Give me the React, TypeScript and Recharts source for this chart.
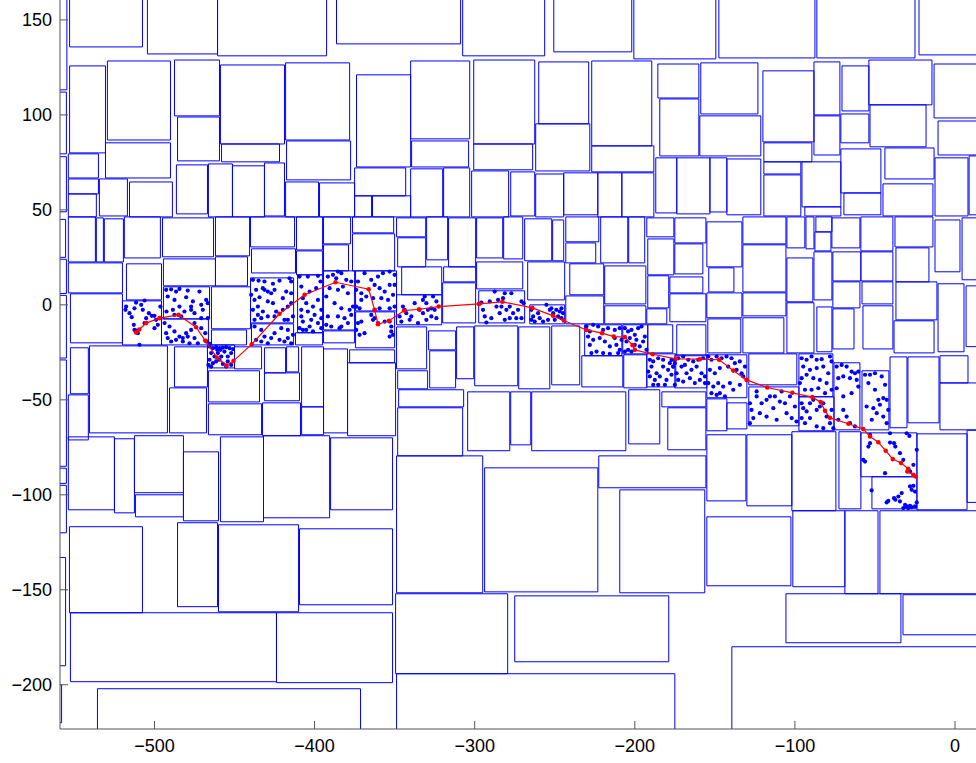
import React from 'react';
import { ScatterChart, Scatter, XAxis, YAxis, ReferenceArea } from 'recharts';

type Box = [number, number, number, number]; // x1, x2, yBottom, yTop

const xTicks = [-500, -400, -300, -200, -100, 0];
const yTicks = [-200, -150, -100, -50, 0, 50, 100, 150];

const boxesNorth: Box[] = [
  [-553, -507.5, 135.8, 170], [-504.4, -460.6, 132.1, 170], [-460.6, -392.5, 131.1, 170], [-386.3, -308.8, 137.4, 170],
  [-553, -530.6, 80, 125.8], [-529.4, -490, 86.8, 128.4], [-487.5, -459.4, 99.5, 128.9], [-485.6, -459.4, 75.8, 98.9],
  [-458.8, -418.8, 84.7, 126.3], [-418.1, -378.1, 86.8, 127.4], [-373.8, -340, 72.6, 121.1], [-530.6, -490, 66.8, 85.3],
  [-458.1, -421.9, 75.3, 84.7], [-417.5, -377.5, 65.8, 86.3], [-553.8, -535, 66.8, 79.5], [-553.8, -535, 58.4, 66.3],
  [-553.8, -536.3, 46.3, 58.4], [-534.4, -516.9, 46.8, 66.3], [-515.6, -488.8, 46.3, 64.7], [-486.3, -466.9, 47.9, 73.7],
  [-466.3, -451.3, 46.3, 74.2], [-451.3, -431.3, 46.3, 73.2], [-431.3, -418.8, 46.8, 74.7], [-418.1, -397.5, 46.3, 64.7],
  [-396.9, -375, 46.3, 64.2], [-375, -364.4, 46.3, 57.4], [-375, -343.1, 57.4, 72.1], [-363.8, -340, 46.3, 57.4],
  [-307.5, -256.3, 131.1, 170], [-250.6, -201.9, 133.2, 170], [-200.6, -149.4, 129.5, 170], [-340, -303.1, 87.4, 128.4],
  [-300.6, -262.5, 84.7, 128.9], [-260, -228.8, 95.3, 127.9], [-261.9, -228.1, 70.5, 95.3], [-226.9, -189.4, 83.7, 128.4],
  [-185.6, -160, 108.9, 126.8], [-184.4, -160, 78.4, 108.4], [-339.4, -303.8, 72.6, 86.3], [-300.6, -263.8, 71.1, 84.7],
  [-226.9, -188.1, 70, 83.7], [-340, -320, 46.3, 71.6], [-319.4, -303.1, 46.3, 72.1], [-301.9, -278.8, 46.3, 70.5],
  [-277.5, -262.5, 46.8, 70], [-261.9, -244.4, 46.3, 68.9], [-244.4, -223.1, 47.4, 69.5], [-223.1, -208.1, 46.3, 69.5],
  [-208.1, -188.1, 46.3, 69.5], [-186.9, -173.8, 48.4, 77.4], [-147.5, -87.5, 130, 170], [-86.3, -25, 130, 170],
  [-22.5, 20, 131.6, 170], [-158.8, -123.1, 100.5, 127.4], [-159.4, -121.3, 78.4, 99.5], [-120, -88.1, 85.8, 123.2],
  [-119.4, -89.4, 75.3, 85.3], [-88.1, -71.9, 100, 127.9], [-88.1, -71.9, 78.9, 99.5], [-70.6, -53.8, 102.1, 125.8],
  [-71.3, -53.8, 85.3, 100.5], [-53.8, -14.4, 105.3, 128.9], [-53.1, -18.1, 83.2, 105.3], [-13.1, 15, 98.4, 126.8],
  [-10.6, 15, 78.9, 96.8], [-43.8, -13.1, 66.3, 82.6], [-45, -13.8, 46.8, 63.7], [-71.3, -46.3, 58.9, 82.1],
  [-69.4, -46.3, 47.4, 58.9], [-95.6, -71.3, 51.6, 75.3], [-93.8, -71.3, 46.8, 51.6], [-119.4, -96.3, 68.9, 75.3],
  [-119.4, -96.3, 46.8, 68.4], [-142.5, -121.3, 47.4, 76.8], [-153.1, -142.5, 48.9, 77.4], [-173.8, -153.1, 47.9, 77.4],
  [-12.5, 8.1, 46.8, 77.4], [8.8, 20, 47.4, 78.4],
];

const boxesMiddleWest: Box[] = [
  [-553.8, -536.9, 22.6, 46.3], [-536.3, -531.9, 22.6, 45.8], [-531.3, -519.4, 22.6, 45.3], [-518.8, -496.3, 24.7, 46.3],
  [-495, -463.1, 25.3, 45.8], [-461.9, -440.6, 25.8, 46.3], [-440, -412.5, 30.5, 46.3], [-439.4, -411.9, 16.8, 29.5],
  [-411.3, -395, 28.9, 46.3], [-411.3, -395, 15.8, 28.4], [-394.4, -377.5, 32.1, 46.3], [-394.4, -378.8, 17.9, 31.6],
  [-376.3, -350.6, 37.9, 46.3], [-376.3, -350, 17.9, 37.4], [-553.8, -520, 6.3, 22.1], [-517.5, -495.6, 2.6, 21.6],
  [-494.4, -461.9, 10, 24.2], [-461.9, -441.9, 10, 25.3], [-464.4, -440, -12.6, 9.5], [-464.4, -442.5, -21.1, -13.2],
  [-552.5, -520, -20, 5.8], [-520, -495.6, -21.1, 2.1], [-494.4, -465.6, -7.4, 9.5], [-495.6, -466.3, -21.1, -7.4],
  [-440, -413.1, -9.5, 14.2], [-439.4, -413.1, -21.1, -10], [-410.6, -395, -14.7, 15.8], [-411.9, -395, -21.1, -14.7],
  [-394.4, -375, -13.2, 17.9], [-394.4, -375, -20, -13.7], [-374.4, -348.8, -3.2, 17.9], [-374.4, -350, -22.6, -3.7],
  [-552.5, -541.3, -46.8, -22.6], [-553.8, -541.3, -71.1, -47.4], [-540.6, -491.9, -67.4, -21.6], [-487.5, -466.9, -43.2, -22.1],
  [-490.6, -467.5, -67.4, -43.7], [-466.9, -450, -33.2, -21.1], [-450, -433.1, -33.7, -22.1], [-466.3, -434.4, -51.1, -34.7],
  [-466.3, -433.1, -68.4, -52.1], [-431.3, -418.1, -35.8, -22.6], [-417.5, -410, -35.3, -22.1], [-431.3, -409.4, -50.5, -35.8],
  [-432.5, -408.8, -68.9, -51.6], [-408.1, -394.4, -53.7, -22.1], [-408.1, -394.4, -68.4, -53.7], [-394.4, -379.4, -67.4, -23.2],
  [-378.1, -350, -30.5, -23.7], [-379.4, -349.4, -68.9, -30.5],
];

const boxesMiddleCentre: Box[] = [
  [-348.8, -330.6, 35.8, 45.8], [-348.1, -330.6, 20, 35.3], [-330, -316.9, 23.7, 46.3], [-316.3, -299.4, 20, 45.8],
  [-345.6, -320.6, 5.3, 20], [-319.4, -299.4, 12.1, 20], [-320, -299.4, -9.5, 11.6], [-348.8, -320.6, -10.5, 5.3],
  [-298.8, -282.5, 24.7, 45.8], [-281.9, -270, 24.2, 46.3], [-298.8, -270, 8.4, 22.6], [-297.5, -268.8, -9.5, 7.4],
  [-268.8, -251.9, 23.2, 45.3], [-251.3, -244.4, 23.2, 44.7], [-266.9, -243.8, 2.6, 22.6], [-265.6, -243.8, -10, 0],
  [-243.1, -222.5, 33.2, 46.3], [-243.1, -224.4, 22.1, 32.6], [-240.6, -219.4, 5.3, 21.6], [-243.1, -219.4, -10, 4.7],
  [-221.3, -204.4, 22.1, 46.3], [-203.8, -193.8, 22.1, 46.3], [-218.8, -193.1, 0.5, 20.5], [-218.8, -193.1, -10, -0.5],
  [-192.5, -175.6, 35.8, 45.8], [-191.9, -175.6, 15.8, 34.7], [-191.9, -178.8, -1.6, 15.3], [-192.5, -180, -10, -2.1],
  [-178.1, -157.5, 6.3, 14.7], [-178.1, -155.6, -8.9, 5.8],
  [-348.8, -330, -33.7, -11.6], [-348.1, -329.4, -44.2, -34.7], [-328.8, -311.9, -23.7, -13.7], [-328.1, -311.9, -43.7, -24.2],
  [-311.3, -300.6, -38.9, -11.6], [-300, -273.1, -42.6, -11.1], [-272.5, -253.1, -44.2, -11.6], [-251.9, -234.4, -42.1, -11.1],
  [-231.3, -208.1, -26.8, -10.5], [-233.1, -207.5, -43.2, -26.8], [-207.5, -191.9, -25.8, -10.5], [-206.9, -192.5, -43.7, -26.3],
  [-191.9, -176.3, -25.3, -10.5], [-192.5, -174.4, -43.2, -25.8], [-347.5, -306.9, -53.7, -44.7], [-348.1, -307.5, -79.5, -54.2],
  [-304.4, -278.1, -76.8, -45.8], [-277.5, -265, -73.7, -45.8], [-264.4, -205.6, -76.8, -45.8], [-203.8, -184.4, -73.2, -44.7],
  [-183.1, -155.6, -53.7, -45.8], [-179.4, -155.6, -76.3, -54.2],
];

const boxesMiddleEast: Box[] = [
  [-175, -155.6, 32.6, 45.8], [-175, -157.5, 16.3, 32.1], [-155, -133.1, 20, 43.7], [-153.8, -138.1, 6.8, 19.5],
  [-132.5, -105.6, 32.1, 46.3], [-132.5, -105.6, 6.8, 31.6], [-105, -93.8, 30, 46.3], [-93.1, -88.1, 29.5, 46.3],
  [-105, -88.8, 1.6, 24.7], [-86.9, -76.9, 38.4, 46.3], [-87.5, -77.5, 28.4, 38.4], [-88.1, -76.9, 2.6, 27.9],
  [-76.9, -59.4, 30, 45.8], [-76.3, -58.8, 12.6, 27.9], [-58.8, -38.8, 28.4, 46.3], [-58.8, -38.8, 12.6, 27.9],
  [-37.5, -13.8, 30.5, 46.3], [-36.9, -16.3, 12.1, 30], [-12.5, 3.1, 17.4, 44.7], [4.4, 20, 13.2, 45.8],
  [-155, -133.1, -6.8, 6.3], [-132.5, -105.6, -5.8, 6.3], [-76.3, -59.4, -1.6, 12.1], [-76.3, -63.1, -23.2, -2.1],
  [-86.3, -76.9, -24.7, -1.1], [-105, -88.1, -25.3, 1.1], [-58.1, -38.8, 0.5, 12.1], [-57.5, -38.8, -23.2, -0.5],
  [-36.9, -11.3, -7.9, 12.1], [-38.1, -13.1, -25.3, -8.4], [-10.6, 5.6, -24.7, 11.1], [6.9, 20, -22, 10],
  [-173.8, -155.6, -26.8, -10.5], [-154.4, -133.8, -25.3, -7.4], [-132.5, -106.9, -25.3, -6.8],
  [-175, -155, -43.7, -26.3], [-155, -130, -48.9, -26.3], [-128.8, -98.8, -42.1, -25.8], [-128.8, -97.5, -63.7, -43.2],
  [-97.5, -76.3, -48.4, -25.8], [-97.5, -75.6, -66.3, -48.4], [-75.6, -59.4, -65.8, -30.5], [-58.1, -41.3, -65.8, -34.7],
  [-40.6, -30, -64.7, -27.4], [-29.4, -10, -62.1, -27.4], [-9.4, 8.1, -41.1, -26.8], [-9.4, 20, -65.8, -41.1],
  [-155, -142.5, -66.3, -49.5], [-142.5, -130, -65.3, -51.6],
];

const boxesSouth: Box[] = [
  [-390, -351.3, -107.9, -70], [-348.8, -295, -151.6, -79.5], [-293.8, -223.1, -151.1, -85.8], [-222.5, -155.6, -96.3, -79.5],
  [-209.4, -156.3, -151.6, -97.4], [-409.4, -351.3, -157.9, -117.9], [-423.8, -351.3, -198.9, -162.1], [-349.4, -279.4, -194.2, -152.1],
  [-275, -178.8, -187.9, -153.2], [-348.8, -175, -230, -194.2], [-155, -130.6, -103.2, -68.4], [-130, -101.9, -105.8, -68.4],
  [-101.9, -74.4, -108.4, -66.8], [-72.5, -58.8, -107.4, -66.8], [-58.8, -23.8, -90.5, -67.4], [-51.9, -23.8, -107.4, -90.5],
  [-23.8, 7.5, -107.9, -67.9], [7.5, 20, -104, -66], [-155, -102.5, -147.9, -111.6], [-101.3, -68.8, -148.4, -108.4],
  [-68.8, -48.1, -152.1, -108.4], [-46.9, 20, -152.1, -108.4], [-105.6, -33.8, -177.9, -152.1], [-32.5, 20, -173.7, -152.6],
  [-139.4, 20, -230, -180], [-553.8, -525, -107.9, -69.5], [-525, -512.5, -109.5, -70.5], [-512.5, -481.9, -98.9, -68.9],
  [-511.9, -481.9, -111.6, -100], [-481.9, -460, -113.7, -77.4], [-458.8, -431.9, -114.2, -69.5], [-431.9, -390.6, -112.1, -68.9],
  [-553.1, -507.5, -162.1, -116.8], [-485.6, -460.6, -158.9, -114.7], [-460, -410, -161.6, -115.8], [-552.5, -423.8, -198.4, -162.1],
  [-535.6, -371.3, -230, -202.1],
];

const boxesEdge: Box[] = [
  [-580, -554.7, 113.2, 170], [-580, -555, 79.5, 112], [-580, -555, 49, 78], [-580, -555.5, 25, 45],
  [-580, -555, 6, 24], [-580, -555, -28, 5], [-580, -555, -85, -29], [-580, -555, -94, -86],
  [-580, -555, -120, -95], [-580, -555.5, -190, -133], [-580, -558, -220, -200],
];

const dotsWest: [number, number][] = [
  [-511.5, 1.2], [-506.2, 2.3], [-517.7, -0.9], [-512.5, -1.8], [-508.3, 0], [-507.3, -2.6], [-515.6, -4.4], [-514.2, -6.5],
  [-505.2, -7], [-503.5, -4.4], [-500, -5.8], [-496.3, -0.9], [-497.9, -10.5], [-500, -12.3], [-510.4, -14.9], [-512.5, -13.2],
  [-511, -13.5], [-509.4, -21], [-499, -7.9], [-501.7, -5.8], [-518.1, -2.6], [-512.9, -10.5], [-506.2, -9.6],
  [-492.7, 7.9], [-489.6, 8.2], [-486.5, 7], [-484.4, 8.4], [-479.2, 7.5], [-471.9, 7], [-467.7, 2.6], [-466.7, 0.9],
  [-491.7, 4.4], [-487.5, 2.6], [-484.4, -0.9], [-480.2, 4], [-477.1, -2.6], [-475, -4.4], [-470.8, 0], [-469.8, -2.6],
  [-476, 1.8], [-481.3, -3.5], [-488.5, -2.6], [-492.5, -3.5], [-487.5, -5.3], [-483.3, -6.1], [-466.7, -7], [-470.8, -7],
  [-477.1, -0.9], [-493.7, -9.6], [-490.6, -11.4], [-492.7, -14.9], [-487.5, -14], [-484.4, -16.7], [-482.3, -17.5],
  [-480.2, -14.9], [-477.1, -13.2], [-475, -9.6], [-470.8, -12.3], [-468.3, -14.9], [-467.7, -19.3], [-472.9, -20.2],
  [-478.1, -20.2], [-482.3, -19.3], [-486.5, -18.4], [-491.7, -17.5], [-489.6, -19.3], [-475, -17.5], [-479.2, -16.7],
  [-465.6, -21.9], [-463.5, -22.8], [-461.5, -22.3], [-459.4, -22.8], [-457.3, -22.5], [-455.2, -22.3], [-453.1, -22.8],
  [-451, -23.3], [-464.6, -25.4], [-462.5, -27.2], [-460.4, -25.4], [-458.3, -27.2], [-456.3, -24.6], [-454.2, -27.2],
  [-452.1, -25.4], [-465.6, -28.9], [-463.5, -30.7], [-461.5, -29.8], [-459.4, -28.9], [-457.3, -31.1], [-454.2, -29.8],
  [-452.1, -31.6], [-464.6, -32.5], [-455.2, -32.5], [-466.3, -31.6], [-458.8, -23.7], [-460.8, -23.7], [-467.1, -19.3],
  [-465.6, -20.5],
  [-438.5, 13.2], [-435, 12.8], [-431.3, 12.3], [-426, 11.1], [-421.9, 12.8], [-415.6, 14], [-414.6, 12.3], [-436.5, 7.9],
  [-432.3, 8.8], [-429.2, 7], [-425, 7.9], [-417.7, 7], [-414.6, 6.1], [-437.5, 2.6], [-434.4, 4], [-429.2, 1.8],
  [-426, 0.9], [-419.8, 3.5], [-416.7, -0.9], [-414.6, 0.9], [-438.5, -2.6], [-435.4, -5.3], [-432.3, -3.5], [-429.2, -6.1],
  [-425, -6.1], [-419.8, -2.6], [-413.5, -6.1], [-437.5, -7.9], [-433.3, -7], [-418.8, -7.9], [-431.3, 7.9], [-427.1, 6.1],
  [-439.6, 5.3], [-435.4, -0.9], [-416.7, -7.9], [-424, -3.5],
  [-437.5, -11.4], [-433.3, -13.2], [-431.3, -16.7], [-427.1, -17.5], [-425, -14.9], [-421.9, -18.4], [-418.8, -19.3],
  [-416.7, -17.5], [-414.6, -20.2], [-429.2, -20.2], [-436.5, -18.4], [-416.7, -13.2], [-413.5, -15.8], [-433.3, -19.3],
  [-420.8, -12.3],
];

const dotsCentre: [number, number][] = [
  [-409.4, 14.9], [-404.2, 14.9], [-397.9, 15.3], [-396.3, 12.3], [-408.3, 9.6], [-403.1, 7], [-399, 8.8], [-407.3, 3.5],
  [-405.2, 0.9], [-401, -0.9], [-397.9, 2.6], [-408.3, -2.6], [-404.2, -3.5], [-400, -5.3], [-395.8, -2.6], [-407.3, -8.8],
  [-402.1, -7.9], [-397.9, -9.6], [-409.4, -12.3], [-405.2, -13.2], [-401, -14], [-395.8, -12.3], [-407.3, -13.2],
  [-403.1, -11.4], [-395.8, -7], [-408.3, -6.1],
  [-391.7, 14.9], [-388.5, 15.8], [-385.4, 17.5], [-383.3, 16.7], [-380.2, 13.2], [-377.1, 12.3], [-390.6, 8.8],
  [-385.4, 7.9], [-382.3, 9.6], [-379.2, 6.1], [-392.7, 4.4], [-387.5, 0.9], [-383.3, -1.8], [-378.1, -2.6], [-391.7, -6.1],
  [-385.4, -6.1], [-381.3, -7], [-377.1, -5.3], [-389.6, -11.4], [-384.4, -12.3], [-379.2, -9.6], [-392.7, -10.5],
  [-376, -0.9], [-386.5, 14], [-383.3, -11.4],
  [-372.9, 12.3], [-368.8, 16.7], [-374, 7.9], [-370.8, 6.1], [-367.7, 4.4], [-371.9, -1.8], [-374, -0.9], [-370.8, 2.6],
  [-364.6, 13.2], [-360.4, 14.9], [-357.3, 16.7], [-353.1, 17.5], [-350, 15.8], [-362.5, 10.5], [-359.4, 8.8], [-356.2, 7],
  [-353.1, 10.5], [-350, 10.5], [-363.5, 3.5], [-358.3, 3.5], [-354.1, 2.6], [-351, 5.3], [-362.5, -2.6], [-359.4, -1.8],
  [-353.1, -1.8], [-350, -0.9], [-372.9, -9.6], [-370.8, -8.8], [-371.9, -15.8], [-368.8, -14.9], [-374, -13.2],
  [-364.6, -5.3], [-362.5, -7], [-360.4, -9.6], [-353.1, -8.8], [-352.1, -11.4], [-352.1, -14], [-351, -15.8], [-353.1, -16.7],
  [-363.5, -7.9], [-356.2, -8.8],
  [-344.8, -0.9], [-346.9, -6.1], [-343.7, -2.6], [-339.6, -6.1], [-337.5, 0.9], [-334.4, -2.6], [-332.3, 2.6], [-330.2, 0.9],
  [-331.2, 4.4], [-326, 4.4], [-323.9, 1.8], [-327.1, -1.8], [-332.3, -4.4], [-330.2, -7.9], [-327.1, -6.1], [-323.9, -7],
  [-335.4, -9.6], [-340.6, -7.9], [-345.8, -8.8], [-342.7, -4.4], [-325, -2.6], [-329.2, -2.6],
  [-295.8, 1.2], [-294.8, -2.6], [-293.7, -6.1], [-292.7, -9.3], [-290.6, 1.8], [-287.5, 7], [-285.4, 2.6], [-282.3, 3.5],
  [-281.2, 6.1], [-277.1, 6.1], [-283.3, -0.9], [-280.2, -2.6], [-278.1, -0.9], [-276, -4.4], [-272.9, -2.6], [-270.8, 1.8],
  [-269.4, 0.9], [-278.1, -7], [-274, -7], [-270.8, -7], [-281.2, -7.9], [-286.4, -0.9], [-289.6, -7], [-284.4, -4.4],
  [-264.6, -2.6], [-263.5, -6.1], [-262.5, -8.8], [-260.4, -4.4], [-257.3, -8.8], [-255.2, 0], [-253.1, -2.6], [-252.1, -1.8],
  [-251, -4.4], [-249, -2.6], [-246.9, -3.5], [-245.8, -1.8], [-244.8, -4.4], [-254.2, -7.9], [-250, -7.9], [-245.8, -7],
  [-259.4, -7], [-264.6, -7.9], [-247.9, -6.1],
  [-230.2, -11.4], [-228.1, -14], [-226, -10.5], [-222.9, -11.4], [-219.8, -13.2], [-216.7, -12.3], [-212.5, -13.2],
  [-209.4, -12.3], [-229.2, -16.7], [-226, -18.4], [-221.9, -17.5], [-218.7, -19.3], [-215.6, -21.9], [-211.5, -21.1],
  [-208.3, -18.4], [-228.1, -21.1], [-223.9, -24.6], [-219.8, -25.4], [-215.6, -25.8], [-210.4, -25.4], [-209.4, -23.7],
  [-227.1, -25.4], [-212.5, -17.5],
  [-206.2, -12.3], [-204.2, -14], [-202.1, -13.2], [-200, -15.8], [-197.9, -12.3], [-195.8, -11.4], [-193.7, -16.7],
  [-205.2, -19.3], [-203.1, -17.5], [-200, -21.1], [-196.9, -21.9], [-192.7, -23.7], [-204.2, -23.7], [-206.2, -24.6],
  [-202.1, -24.6], [-194.8, -19.3], [-199, -18.4],
  [-190.6, -28.9], [-188.5, -29.8], [-185.4, -28.1], [-182.3, -28.9], [-178.1, -30.7], [-175, -28.9], [-189.6, -32.5],
  [-186.4, -36], [-182.3, -32.5], [-179.2, -34.2], [-176, -32.5], [-190.6, -37.7], [-187.5, -39.5], [-184.4, -37.7],
  [-180.2, -39.5], [-177.1, -36.8], [-188.5, -42.1], [-185.4, -42.1], [-181.2, -42.1], [-175, -42.1], [-191.6, -35.1],
];

const dotsEast: [number, number][] = [
  [-177.1, -29], [-175, -30.7], [-172.9, -28.1], [-169.8, -27.2], [-166.6, -28.9], [-163.5, -29.8], [-160.4, -28.9],
  [-157.3, -28.1], [-173.9, -36], [-170.8, -32.5], [-167.7, -36], [-164.6, -34.2], [-161.4, -32.5], [-158.3, -36],
  [-156.2, -37.7], [-172.9, -39.5], [-169.8, -40.4], [-165.6, -38.6], [-162.5, -41.2], [-159.4, -39.5], [-156.2, -41.2],
  [-168.7, -31.6], [-176, -32.5],
  [-154.1, -27.2], [-152.1, -28.9], [-148.9, -27.2], [-145.8, -28.1], [-142.7, -27.2], [-139.6, -28.1], [-137.5, -30.7],
  [-134.4, -29.8], [-131.2, -32.5], [-153.1, -34.2], [-150, -36], [-146.9, -33.3], [-141.7, -32.5], [-136.4, -34.2],
  [-133.3, -36], [-154.1, -41.2], [-151, -43], [-147.9, -41.2], [-144.8, -43], [-152.1, -46.5], [-148.9, -47.4],
  [-146.9, -46.5], [-143.7, -48.2], [-134.4, -42.1], [-138.5, -44.7], [-140.6, -41.2], [-132.3, -37.7],
  [-128.1, -51.8], [-127.1, -55.3], [-126, -59.6], [-123.9, -48.2], [-120.8, -51.8], [-117.7, -50], [-115.6, -48.2],
  [-112.5, -48.2], [-109.4, -50.9], [-106.2, -51.8], [-103.1, -48.2], [-100, -53.5], [-102, -59.6], [-105.2, -57],
  [-111.4, -60.5], [-117.7, -58.8], [-121.9, -57], [-128.1, -62.3], [-99, -61.4], [-123.9, -45.6], [-113.5, -54.4],
  [-108.3, -45.6],
  [-95.8, -28.1], [-92.7, -28.9], [-89.6, -27.2], [-86.4, -28.9], [-83.3, -28.6], [-78.1, -27.2], [-77.1, -29.8],
  [-94.8, -32.5], [-90.6, -34.2], [-86.4, -33.3], [-82.3, -32.5], [-79.2, -36], [-95.8, -38.6], [-92.7, -36.8],
  [-88.5, -38.6], [-84.4, -39.5], [-80.2, -41.2], [-93.7, -44.7], [-89.6, -44.7], [-85.4, -43.9], [-81.2, -46.5],
  [-77.1, -44.7], [-96.9, -41.2],
  [-95.8, -51.8], [-94.8, -54.4], [-92.7, -56.1], [-90.6, -51.8], [-86.4, -55.3], [-84.4, -53.5], [-82.3, -51.8],
  [-80.2, -58.8], [-78.1, -62.3], [-95.8, -59.6], [-93.7, -62.3], [-90.6, -59.6], [-86.4, -64], [-82.3, -64.9],
  [-77.1, -55.3], [-88.5, -50], [-76, -64.9],
  [-73.9, -32.5], [-70.8, -31.6], [-67.7, -32.5], [-64.6, -35.1], [-62.5, -36], [-60.4, -35.1], [-72.9, -38.6],
  [-69.8, -37.7], [-65.6, -38.6], [-61.4, -39.5], [-73.9, -43.9], [-69.8, -48.2], [-64.6, -46.5], [-69.8, -55.3],
  [-65.6, -62.3], [-62.5, -64], [-72.9, -60.5], [-67.7, -58.8], [-60.4, -43],
  [-56.2, -36.8], [-53.1, -36.8], [-50, -36], [-45.8, -37.7], [-43.7, -42.1], [-54.1, -41.2], [-50, -44.7], [-47.9, -50],
  [-44.8, -49.1], [-42.7, -50], [-51, -54.4], [-46.9, -52.6], [-48.9, -57], [-44.8, -58.8], [-52, -60.5], [-42.7, -62.3],
  [-55.2, -53.5], [-41.7, -55.3],
];

const dotsSouth: [number, number][] = [
  [-53.1, -72.8], [-54.1, -74.6], [-40.6, -72.5], [-38.1, -72.8], [-37.3, -74.6], [-30.2, -67.6], [-28.5, -69],
  [-23.9, -76.3], [-57.3, -81.6], [-56.2, -82.5], [-26, -84.2], [-43.7, -88.6], [-28.1, -87.7], [-53.1, -68.4],
  [-40.6, -67.6], [-34.4, -78.1], [-32.3, -81.6],
  [-52.1, -97.7], [-42.7, -104], [-41.7, -103.2], [-38.1, -101.8], [-37.3, -102.6], [-35.4, -100.9], [-34.4, -103.5],
  [-33.3, -99.1], [-28.1, -95.6], [-27.1, -97.4], [-26, -95.3], [-25, -98.3], [-23.9, -104], [-30.2, -106.1],
  [-29.2, -107], [-28.1, -105.8], [-27.1, -106.5], [-31.2, -105.3], [-25, -106.1], [-32.3, -107],
];

const trackPath: [number, number][] = [
  [-511.5, -14.5], [-509.5, -13], [-505.2, -9.6], [-496.9, -7], [-485, -5.3], [-474, -11.8], [-468.3, -18.8],
  [-461, -27.7], [-455, -31.9], [-450.6, -29.5], [-439.2, -20.7], [-421.9, -4.7], [-406.2, 5.3], [-386.9, 11.9],
  [-366.2, 8.2], [-362.5, -2.6], [-360.4, -10.2], [-353.5, -8.4], [-344.1, -3], [-334.8, -2.3], [-322.5, -0.9],
  [-297.3, 0.5], [-282.7, 1.6], [-264, -1.6], [-251, -5.8], [-244.4, -8.2], [-230.2, -13.2], [-220.4, -14.9],
  [-213.1, -16.7], [-206.2, -17], [-201.4, -21.2], [-200, -23.7], [-188.9, -26], [-174.4, -28.4], [-159.4, -28.6],
  [-147.3, -28.9], [-138.5, -34.6], [-130.2, -39.5], [-117.3, -43.5], [-101.6, -46.3], [-89.1, -48.6], [-83.9, -51.2],
  [-81.2, -55.8], [-78.1, -59.5], [-66.6, -62.6], [-57.3, -65.4], [-53.1, -69.3], [-47.9, -72.3], [-43.3, -76.8],
  [-38.9, -81.2], [-33.7, -83.3], [-29.2, -86.3], [-29.8, -87.7], [-26, -89.5], [-24.6, -90.4],
];

const allBoxes: Box[] = [...boxesEdge, ...boxesNorth, ...boxesMiddleWest, ...boxesMiddleCentre, ...boxesMiddleEast, ...boxesSouth];
const toPoints = (a: [number, number][]) => a.map(([x, y]) => ({ x, y }));
const blueData = toPoints([...dotsWest, ...dotsCentre, ...dotsEast, ...dotsSouth]);
const redData = toPoints(trackPath);

const fmt = (v: number) => (v < 0 ? '\u2212' + Math.abs(v) : String(v));

const BlueDot = (p: any) => <circle cx={p.cx} cy={p.cy} r={2.1} fill="#0000ff" />;
const RedDot = (p: any) => <circle cx={p.cx} cy={p.cy} r={2.3} fill="#ff0000" />;

const tickStyle = { fill: '#000', fontSize: 18, fontFamily: 'Liberation Sans, Arial, Helvetica, sans-serif' };

export default function App() {
  return (
    <div style={{ position: 'absolute', left: 0, top: 0, width: 976, height: 763, background: '#fff' }}>
      <ScatterChart width={976} height={763} margin={{ top: 0, right: 0, bottom: 4, left: 0 }}>
        <XAxis
          type="number"
          dataKey="x"
          domain={[-559, 13.1]}
          ticks={xTicks}
          allowDataOverflow
          height={30}
          tickSize={-8}
          tickMargin={18}
          stroke="#555"
          tick={tickStyle}
          tickFormatter={fmt}
        />
        <YAxis
          type="number"
          dataKey="y"
          domain={[-223.3, 160.5]}
          ticks={yTicks}
          allowDataOverflow
          width={60}
          tickSize={-8}
          tickMargin={16}
          stroke="#555"
          tick={tickStyle}
          tickFormatter={fmt}
        />
        {allBoxes.map((b, i) => (
          <ReferenceArea
            key={i}
            x1={b[0]}
            x2={b[1]}
            y1={b[2]}
            y2={b[3]}
            fill="none"
            stroke="#0000ff"
            strokeWidth={1}
            ifOverflow="hidden"
          />
        ))}
        <Scatter data={blueData} shape={BlueDot} isAnimationActive={false} />
        <Scatter
          data={redData}
          shape={RedDot}
          line={{ stroke: '#ff0000', strokeWidth: 1.2 }}
          isAnimationActive={false}
        />
      </ScatterChart>
    </div>
  );
}
